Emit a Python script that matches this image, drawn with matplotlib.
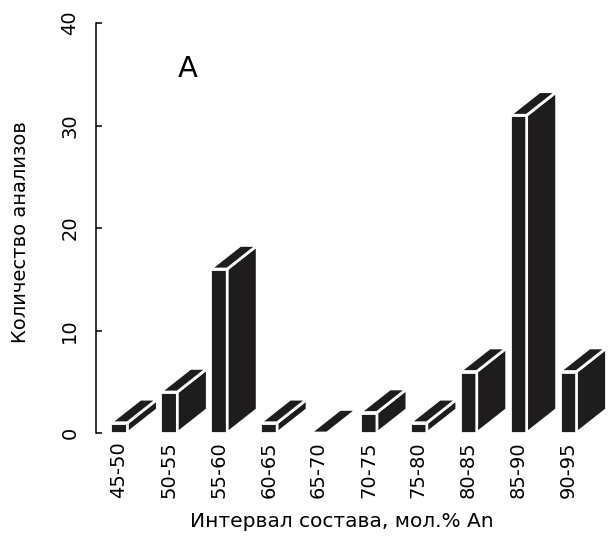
import matplotlib
matplotlib.use('Agg')
import matplotlib.pyplot as plt
from matplotlib.patches import Polygon

plt.rcParams['font.family'] = ['DejaVu Sans']

# data
categories = ['45-50', '50-55', '55-60', '60-65', '65-70',
              '70-75', '75-80', '80-85', '85-90', '90-95']
counts = [1, 4, 16, 1, 0, 2, 1, 6, 31, 6]

fig = plt.figure(figsize=(6.08, 5.36), dpi=100)
ax = fig.add_axes([96 / 608, 103 / 536, 512 / 608, 410 / 536])

# pseudo-3D bars: front, side, top
w = 0.34     # front width
dx = 0.6     # depth in x
dy = 2.3     # depth in y
face = '#1f1c1d'
for i, h in enumerate(counts):
    x0, x1 = i - w / 2, i + w / 2
    polys = []
    if h > 0:
        polys.append([(x0, 0), (x1, 0), (x1, h), (x0, h)])
    polys.append([(x1, 0), (x1 + dx, dy), (x1 + dx, h + dy), (x1, h)])
    polys.append([(x0, h), (x1, h), (x1 + dx, h + dy), (x0 + dx, h + dy)])
    for p in polys:
        ax.add_patch(Polygon(p, closed=True, facecolor=face,
                             edgecolor='white', linewidth=2.0, joinstyle='miter'))

ax.set_xlim(-0.46, 9.8)
ax.set_ylim(0, 40)

for s in ['top', 'right', 'bottom']:
    ax.spines[s].set_visible(False)
ax.spines['left'].set_linewidth(1.1)

ax.set_yticks([0, 10, 20, 30, 40])
ax.tick_params(axis='y', direction='in', length=4, width=1.1, pad=12, labelsize=14)
for lab in ax.get_yticklabels():
    lab.set_rotation(90)
    lab.set_va('center')

ax.set_xticks(range(len(categories)))
ax.set_xticklabels(categories, rotation=90, fontsize=14)
ax.tick_params(axis='x', length=0, pad=6)

ax.set_ylabel('Количество анализов', fontsize=14, va='center')
ax.yaxis.set_label_coords(-0.148, 0.491)
ax.set_xlabel('Интервал состава, мол.% An', fontsize=14.5, va='center')
ax.xaxis.set_label_coords(0.481, -0.217)

ax.text(1.37, 35.5, 'A', fontsize=21, ha='center', va='center')

fig.savefig('out.png', dpi=100)
